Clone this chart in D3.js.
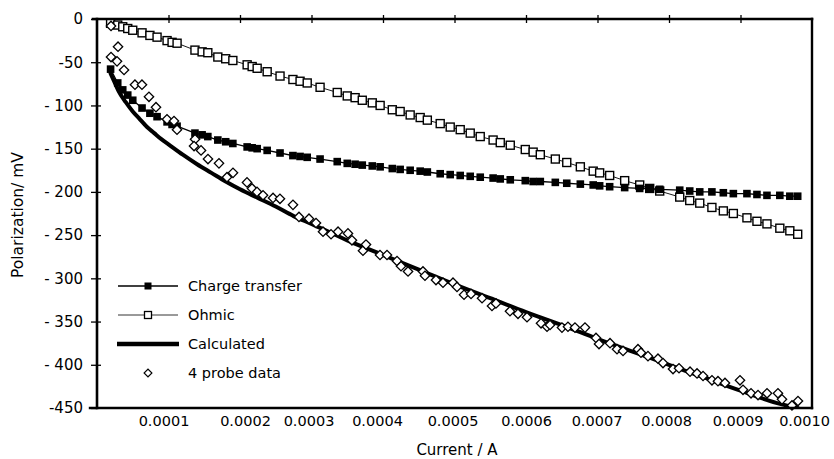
<!DOCTYPE html>
<html>
<head>
<meta charset="utf-8">
<script src="https://cdn.jsdelivr.net/npm/d3@7"></script>
<style>
  html, body { margin: 0; padding: 0; background: #fff; }
  svg { display: block; font-family: "DejaVu Sans", sans-serif; }
</style>
</head>
<body>
<svg id="chart" width="834" height="459"></svg>
<script>
// Current (A) shared by the charge-transfer and ohmic series
const current = [0.19e-4, 0.29e-4, 0.36e-4, 0.43e-4, 0.50e-4, 0.63e-4, 0.74e-4, 0.84e-4, 0.98e-4, 1.05e-4,
  1.12e-4, 1.37e-4, 1.47e-4, 1.55e-4, 1.69e-4, 1.80e-4, 1.90e-4, 2.10e-4, 2.17e-4, 2.24e-4,
  2.38e-4, 2.56e-4, 2.74e-4, 2.84e-4, 2.94e-4, 3.12e-4, 3.36e-4, 3.50e-4, 3.61e-4, 3.71e-4,
  3.85e-4, 3.96e-4, 4.13e-4, 4.24e-4, 4.38e-4, 4.52e-4, 4.62e-4, 4.80e-4, 4.94e-4, 5.08e-4,
  5.22e-4, 5.36e-4, 5.54e-4, 5.64e-4, 5.78e-4, 5.99e-4, 6.10e-4, 6.20e-4, 6.41e-4, 6.57e-4,
  6.76e-4, 6.94e-4, 7.03e-4, 7.17e-4, 7.38e-4, 7.59e-4, 7.73e-4, 7.87e-4, 8.15e-4, 8.29e-4,
  8.43e-4, 8.60e-4, 8.76e-4, 8.90e-4, 9.09e-4, 9.23e-4, 9.37e-4, 9.55e-4, 9.69e-4, 9.80e-4];

// Charge-transfer polarization (mV)
const chargeTransfer = [-58, -74, -82, -88, -94, -103, -109, -113, -119, -122,
  -124, -132, -134, -136, -140, -142, -144, -148, -149, -150,
  -152, -155, -158, -159, -160, -162, -165, -167, -168, -169,
  -170, -171, -173, -174, -175, -176, -177, -179, -180, -181,
  -182, -183, -184, -185, -186, -187, -188, -188, -189, -190,
  -191, -192, -193, -194, -195, -196, -196, -197, -198, -199,
  -200, -200, -201, -202, -202, -203, -204, -204, -205, -205];

// Ohmic polarization (mV)
const ohmic = [-5, -7, -9, -11, -13, -16, -19, -21, -25, -27,
  -28, -36, -38, -39, -44, -46, -48, -53, -55, -57,
  -61, -66, -70, -72, -74, -79, -85, -89, -91, -94,
  -97, -100, -105, -107, -111, -114, -117, -121, -125, -128,
  -132, -136, -140, -143, -146, -151, -154, -157, -162, -166,
  -171, -176, -178, -181, -187, -192, -196, -199, -206, -210,
  -213, -218, -222, -225, -230, -234, -237, -242, -245, -249];

// Calculated polarization curve
const calcCurrent = [0.19e-4, 0.25e-4, 0.3e-4, 0.4e-4, 0.5e-4, 0.6e-4, 0.7e-4, 0.8e-4, 0.9e-4, 1.0e-4,
  1.2e-4, 1.4e-4, 1.6e-4, 1.8e-4, 2.0e-4, 2.25e-4, 2.5e-4, 2.75e-4, 3.0e-4, 3.5e-4,
  4.0e-4, 4.5e-4, 5.0e-4, 5.5e-4, 6.0e-4, 6.5e-4, 7.0e-4, 7.5e-4, 8.0e-4, 8.5e-4,
  9.0e-4, 9.5e-4, 9.8e-4];
const calculated = [-63, -74, -83, -96, -107, -116, -125, -132, -139, -145,
  -157, -168, -178, -188, -197, -207, -217, -228, -237, -256,
  -273, -290, -307, -323, -339, -354, -370, -385, -400, -415,
  -430, -444, -450];

// Four-probe measurements
const probeCurrent = [0.196e-4, 0.294e-4, 0.196e-4, 0.280e-4, 0.378e-4, 0.531e-4, 0.629e-4, 0.727e-4, 0.825e-4, 0.979e-4,
  1.077e-4, 1.119e-4, 1.371e-4, 1.357e-4, 1.455e-4, 1.552e-4, 1.706e-4, 1.818e-4, 1.902e-4, 2.098e-4,
  2.168e-4, 2.238e-4, 2.322e-4, 2.462e-4, 2.559e-4, 2.741e-4, 2.825e-4, 2.965e-4, 3.063e-4, 3.161e-4,
  3.273e-4, 3.371e-4, 3.510e-4, 3.566e-4, 3.720e-4, 3.762e-4, 3.958e-4, 4.056e-4, 4.196e-4, 4.252e-4,
  4.350e-4, 4.559e-4, 4.587e-4, 4.741e-4, 4.839e-4, 4.979e-4, 5.035e-4, 5.133e-4, 5.231e-4, 5.385e-4,
  5.524e-4, 5.580e-4, 5.776e-4, 5.888e-4, 6.014e-4, 6.210e-4, 6.294e-4, 6.336e-4, 6.503e-4, 6.587e-4,
  6.685e-4, 6.825e-4, 6.979e-4, 7.021e-4, 7.175e-4, 7.273e-4, 7.357e-4, 7.566e-4, 7.608e-4, 7.706e-4,
  7.846e-4, 7.916e-4, 8.056e-4, 8.140e-4, 8.294e-4, 8.392e-4, 8.476e-4, 8.601e-4, 8.685e-4, 8.783e-4,
  8.993e-4, 9.035e-4, 9.147e-4, 9.245e-4, 9.371e-4, 9.524e-4, 9.580e-4, 9.720e-4, 9.804e-4];
const probe = [-8, -32, -44, -49, -59, -76, -76, -90, -102, -116,
  -118, -128, -139, -147, -152, -162, -167, -183, -178, -189,
  -196, -200, -204, -207, -208, -215, -229, -231, -236, -246,
  -249, -246, -248, -256, -268, -261, -273, -273, -280, -286,
  -292, -292, -297, -302, -305, -305, -310, -319, -318, -323,
  -332, -329, -338, -341, -345, -352, -356, -354, -357, -356,
  -357, -357, -369, -376, -375, -382, -384, -382, -386, -390,
  -393, -398, -405, -404, -408, -410, -413, -418, -419, -421,
  -418, -429, -433, -435, -433, -433, -440, -447, -442];

// Axis ticks
const xTicks = [1e-4, 2e-4, 3e-4, 4e-4, 5e-4, 6e-4, 7e-4, 8e-4, 9e-4, 10e-4];
const xTickLabels = ["0.0001", "0.0002", "0.0003", "0.0004", "0.0005", "0.0006", "0.0007", "0.0008", "0.0009", "0.0010"];
const yTicks = [0, -50, -100, -150, -200, -250, -300, -350, -400, -450];
const yTickLabels = ["0", "-50", "- 100", "- 150", "- 200", "- 250", "- 300", "- 350", "- 400", "-450"];

const legendItems = ["Charge transfer", "Ohmic", "Calculated", "4 probe data"];

const svg = d3.select("#chart");
const plotLeft = 97, plotRight = 812, plotTop = 19, plotBottom = 408;

const x = d3.scaleLinear().domain([0, 0.001]).range([plotLeft, plotRight]);
const y = d3.scaleLinear().domain([-450, 0]).range([plotBottom, plotTop]);

svg.append("rect").attr("width", 834).attr("height", 459).attr("fill", "#fff");

// Clip marks to the plot frame
svg.append("clipPath").attr("id", "plotClip")
  .append("rect").attr("x", plotLeft).attr("y", plotTop - 6)
  .attr("width", plotRight - plotLeft).attr("height", plotBottom - plotTop + 6);

const plot = svg.append("g").attr("clip-path", "url(#plotClip)");

// Ohmic series
const ohmicPts = current.map((c, i) => [c, ohmic[i]]);
plot.append("path")
  .datum(ohmicPts)
  .attr("fill", "none").attr("stroke", "#000").attr("stroke-width", 0.9)
  .attr("d", d3.line().x(d => x(d[0])).y(d => y(d[1])));
plot.append("g").selectAll("rect").data(ohmicPts).join("rect")
  .attr("x", d => x(d[0]) - 4).attr("y", d => y(d[1]) - 4)
  .attr("width", 8).attr("height", 8)
  .attr("fill", "#fff").attr("stroke", "#000").attr("stroke-width", 1.4);

// Charge-transfer series
const ctPts = current.map((c, i) => [c, chargeTransfer[i]]);
plot.append("path")
  .datum(ctPts)
  .attr("fill", "none").attr("stroke", "#000").attr("stroke-width", 1.3)
  .attr("d", d3.line().x(d => x(d[0])).y(d => y(d[1])));
plot.append("g").selectAll("rect").data(ctPts).join("rect")
  .attr("x", d => x(d[0]) - 3.8).attr("y", d => y(d[1]) - 3.8)
  .attr("width", 7.6).attr("height", 7.6)
  .attr("fill", "#000");

// Calculated curve
const calcPts = calcCurrent.map((c, i) => [c, calculated[i]]);
plot.append("path")
  .datum(calcPts)
  .attr("fill", "none").attr("stroke", "#000").attr("stroke-width", 4)
  .attr("stroke-linecap", "round")
  .attr("d", d3.line().curve(d3.curveMonotoneX).x(d => x(d[0])).y(d => y(d[1])));

// Four-probe data (open diamonds)
const diamond = d3.symbol().type(d3.symbolSquare).size(44);
svg.append("g").selectAll("path").data(probeCurrent.map((c, i) => [c, probe[i]])).join("path")
  .attr("d", diamond)
  .attr("transform", d => `translate(${x(d[0])},${y(d[1])}) rotate(45)`)
  .attr("fill", "#fff").attr("stroke", "#000").attr("stroke-width", 1.3);

// Frame
const frame = svg.append("g").attr("fill", "none").attr("stroke", "#000").attr("stroke-linecap", "square");
frame.append("line").attr("x1", plotLeft - 4).attr("x2", plotRight).attr("y1", plotTop).attr("y2", plotTop).attr("stroke-width", 2.6);
frame.append("line").attr("x1", plotLeft).attr("x2", plotLeft).attr("y1", plotTop).attr("y2", plotBottom).attr("stroke-width", 2.6);
frame.append("line").attr("x1", plotLeft - 7).attr("x2", plotRight).attr("y1", plotBottom).attr("y2", plotBottom).attr("stroke-width", 2.4);
frame.append("line").attr("x1", plotRight).attr("x2", plotRight).attr("y1", plotTop).attr("y2", plotBottom).attr("stroke-width", 2.4);

// Top ticks crossing the frame
svg.append("g").attr("transform", `translate(0,${plotTop})`)
  .call(d3.axisTop(x).tickValues(xTicks.slice(0, -1)).tickSize(4).tickFormat(""))
  .call(g => g.select(".domain").remove())
  .call(g => g.selectAll("line").attr("stroke-width", 1.3));
svg.append("g").attr("transform", `translate(0,${plotTop})`)
  .call(d3.axisBottom(x).tickValues(xTicks.slice(0, -1)).tickSize(4).tickFormat(""))
  .call(g => g.select(".domain").remove())
  .call(g => g.selectAll("line").attr("stroke-width", 1.3));

// Bottom axis labels (hand-set label offsets of the plotter lettering)
const xLabelShift = [-5, 5, -3, -6, -2, 0, -1, -3, -3, -8];
const xAxis = svg.append("g").attr("transform", `translate(0,${plotBottom})`)
  .call(d3.axisBottom(x).tickValues(xTicks).tickSize(0).tickPadding(8)
    .tickFormat((d, i) => xTickLabels[i]));
xAxis.select(".domain").remove();
xAxis.selectAll("text").attr("font-size", 14.5).attr("font-family", "DejaVu Sans, sans-serif")
  .attr("fill", "#000")
  .attr("dx", (d, i) => xLabelShift[i]);

// Left axis with ticks crossing the frame
const yAxis = svg.append("g").attr("transform", `translate(${plotLeft},0)`)
  .call(d3.axisLeft(y).tickValues(yTicks).tickSize(6).tickPadding(8)
    .tickFormat((d, i) => yTickLabels[i]));
yAxis.select(".domain").remove();
yAxis.selectAll("line").attr("stroke-width", 1.3);
yAxis.selectAll("text").attr("font-size", 15).attr("font-family", "DejaVu Sans, sans-serif").attr("fill", "#000");
svg.append("g").attr("transform", `translate(${plotLeft},0)`)
  .call(d3.axisRight(y).tickValues(yTicks.slice(1, -1)).tickSize(4).tickFormat(""))
  .call(g => g.select(".domain").remove())
  .call(g => g.selectAll("line").attr("stroke-width", 1.3));

// Axis titles
svg.append("text")
  .attr("x", 457).attr("y", 455)
  .attr("text-anchor", "middle").attr("font-size", 15).attr("fill", "#000")
  .text("Current / A");
svg.append("text")
  .attr("transform", "translate(23,215) rotate(-90)")
  .attr("text-anchor", "middle").attr("font-size", 15.5).attr("fill", "#000")
  .text("Polarization/ mV");

// Legend
const legend = svg.append("g");
const legY = [286, 315, 344, 373];
legendItems.forEach((label, i) => {
  const g = legend.append("g").attr("transform", `translate(0,${legY[i]})`);
  if (i === 0) {
    g.append("line").attr("x1", 118).attr("x2", 178).attr("stroke", "#000").attr("stroke-width", 1.3);
    g.append("rect").attr("x", 144.5).attr("y", -3.5).attr("width", 7).attr("height", 7).attr("fill", "#000");
  } else if (i === 1) {
    g.append("line").attr("x1", 118).attr("x2", 178).attr("stroke", "#000").attr("stroke-width", 0.8);
    g.append("rect").attr("x", 144.5).attr("y", -3.5).attr("width", 7).attr("height", 7)
      .attr("fill", "#fff").attr("stroke", "#000").attr("stroke-width", 1.3);
  } else if (i === 2) {
    g.append("line").attr("x1", 117).attr("x2", 179).attr("stroke", "#000").attr("stroke-width", 4.5);
  } else {
    g.append("path").attr("d", d3.symbol().type(d3.symbolSquare).size(30)())
      .attr("transform", "translate(148,0) rotate(45)")
      .attr("fill", "#fff").attr("stroke", "#000").attr("stroke-width", 1.2);
  }
  g.append("text").attr("x", 188).attr("y", 0).attr("dy", "0.35em")
    .attr("font-size", 14.5).attr("fill", "#000").text(label);
});
</script>
</body>
</html>
